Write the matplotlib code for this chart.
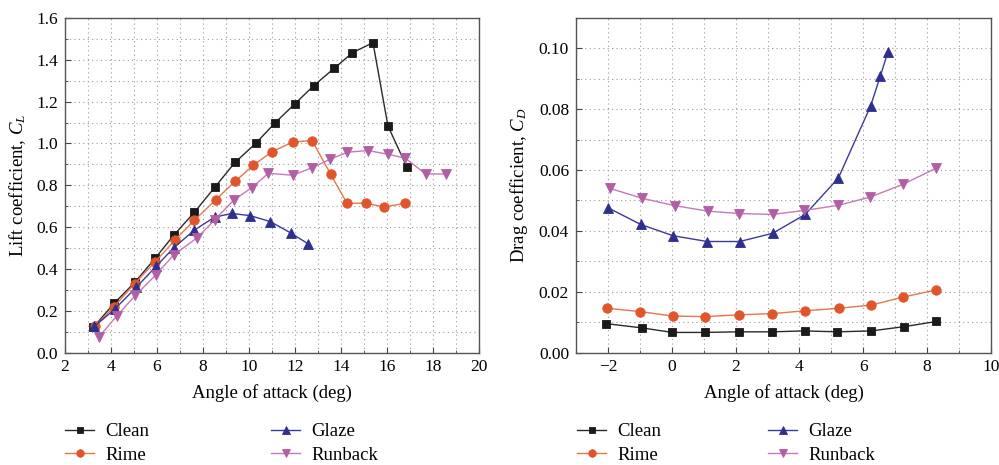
import matplotlib
matplotlib.use("Agg")
import matplotlib.pyplot as plt
from matplotlib.ticker import MultipleLocator, FormatStrFormatter, FuncFormatter

plt.rcParams['font.family'] = ['Liberation Serif', 'DejaVu Serif']
plt.rcParams['mathtext.fontset'] = 'custom'
plt.rcParams['mathtext.rm'] = 'Liberation Serif'
plt.rcParams['mathtext.it'] = 'Liberation Serif:italic'
plt.rcParams['axes.unicode_minus'] = True

series_names = ["Clean", "Rime", "Glaze", "Runback"]

# Lift coefficient data
cl_clean_x = [3.23, 4.14, 5.03, 5.93, 6.72, 7.62, 8.51, 9.39, 10.29, 11.12, 12.0, 12.81, 13.7, 14.5, 15.39, 16.04, 16.86]
cl_clean_y = [0.12, 0.236, 0.335, 0.452, 0.56, 0.67, 0.79, 0.909, 1.0, 1.097, 1.19, 1.276, 1.359, 1.434, 1.482, 1.084, 0.888]
cl_rime_x = [3.3, 4.14, 5.03, 5.93, 6.8, 7.62, 8.55, 9.39, 10.19, 11.01, 11.91, 12.74, 13.55, 14.26, 15.09, 15.88, 16.8]
cl_rime_y = [0.125, 0.22, 0.33, 0.435, 0.54, 0.632, 0.73, 0.818, 0.896, 0.961, 1.007, 1.014, 0.853, 0.714, 0.714, 0.696, 0.714]
cl_glaze_x = [3.28, 4.17, 5.1, 5.97, 6.72, 7.62, 8.51, 9.25, 10.04, 10.93, 11.81, 12.57]
cl_glaze_y = [0.125, 0.208, 0.312, 0.413, 0.5, 0.585, 0.648, 0.665, 0.655, 0.626, 0.572, 0.52]
cl_runback_x = [3.48, 4.25, 5.06, 5.94, 6.72, 7.75, 8.51, 9.35, 10.13, 10.84, 11.91, 12.72, 13.52, 14.28, 15.17, 16.06, 16.8, 17.68, 18.55]
cl_runback_y = [0.075, 0.175, 0.273, 0.37, 0.466, 0.549, 0.635, 0.73, 0.789, 0.857, 0.848, 0.883, 0.924, 0.958, 0.966, 0.948, 0.929, 0.854, 0.854]

# Drag coefficient data
cd_clean_x = [-2.07, -0.94, 0.02, 1.04, 2.11, 3.14, 4.16, 5.19, 6.25, 7.28, 8.29]
cd_clean_y = [0.0095, 0.0081, 0.0066, 0.0066, 0.0068, 0.0068, 0.0071, 0.0068, 0.0071, 0.0085, 0.0102]
cd_rime_x = [-2.02, -1.0, 0.03, 1.05, 2.11, 3.15, 4.17, 5.24, 6.25, 7.24, 8.29]
cd_rime_y = [0.01455, 0.01346, 0.0120, 0.0118, 0.0124, 0.0128, 0.0137, 0.01455, 0.0156, 0.0182, 0.0206]
cd_glaze_x = [-2.0, -0.97, 0.04, 1.11, 2.13, 3.16, 4.18, 5.22, 6.23, 6.53, 6.77]
cd_glaze_y = [0.0476, 0.0421, 0.0384, 0.0365, 0.0365, 0.0392, 0.0454, 0.0574, 0.0811, 0.0908, 0.0988]
cd_runback_x = [-1.95, -0.92, 0.09, 1.12, 2.11, 3.16, 4.14, 5.22, 6.21, 7.24, 8.28]
cd_runback_y = [0.0540, 0.0507, 0.0483, 0.0465, 0.0457, 0.0454, 0.0467, 0.0484, 0.0511, 0.0553, 0.0606]

styles = {
    "Clean": dict(color="#2a2a2a", mfc="#1a1a1a", mec="#1a1a1a", marker="s", ms=6.2),
    "Rime": dict(color="#e8754c", mfc="#e0552a", mec="#e0552a", marker="o", ms=6.8),
    "Glaze": dict(color="#3a3a99", mfc="#2e2f8f", mec="#2e2f8f", marker="^", ms=7.2),
    "Runback": dict(color="#c47ab8", mfc="#b15ea4", mec="#b15ea4", marker="v", ms=7.2),
}

fig = plt.figure(figsize=(9.99, 4.65), dpi=100)
W, H = 999, 465
ax1 = fig.add_axes([65 / W, 1 - 352.5 / H, (479 - 65) / W, (352.5 - 18) / H])
ax2 = fig.add_axes([576 / W, 1 - 352.5 / H, (991 - 576) / W, (352.5 - 18) / H])

cl_data = [(cl_clean_x, cl_clean_y), (cl_rime_x, cl_rime_y), (cl_glaze_x, cl_glaze_y), (cl_runback_x, cl_runback_y)]
cd_data = [(cd_clean_x, cd_clean_y), (cd_rime_x, cd_rime_y), (cd_glaze_x, cd_glaze_y), (cd_runback_x, cd_runback_y)]

for ax, data in [(ax1, cl_data), (ax2, cd_data)]:
    for name, (xs, ys) in zip(series_names, data):
        st = styles[name]
        ax.plot(xs, ys, color=st["color"], lw=1.0, marker=st["marker"], ms=st["ms"],
                mfc=st["mfc"], mec=st["mec"], mew=0.6, label=name)

def style_axes(ax):
    ax.grid(True, which="both", color="#999999", linestyle=(0, (1, 3)), linewidth=0.8)
    ax.set_axisbelow(True)
    ax.tick_params(which="both", direction="in", labelsize=12.5, color="#444444")
    ax.tick_params(which="major", length=4, width=0.8)
    ax.tick_params(which="minor", length=2.5, width=0.6)
    for sp in ax.spines.values():
        sp.set_color("#555555")
        sp.set_linewidth(1.0)
    ax.tick_params(axis="both", pad=5)

ax1.set_xlim(2, 20)
ax1.set_ylim(0, 1.6)
ax1.xaxis.set_major_locator(MultipleLocator(2))
ax1.xaxis.set_minor_locator(MultipleLocator(1))
ax1.yaxis.set_major_locator(MultipleLocator(0.2))
ax1.yaxis.set_minor_locator(MultipleLocator(0.1))
ax1.yaxis.set_major_formatter(FormatStrFormatter("%.1f"))
ax1.set_xlabel("Angle of attack (deg)", fontsize=13.5, labelpad=6)
ax1.set_ylabel("Lift coefficient, $C_L$", fontsize=13.5, labelpad=6)
style_axes(ax1)

ax2.set_xlim(-3, 10)
ax2.set_ylim(0, 0.11)
ax2.xaxis.set_major_locator(MultipleLocator(2))
ax2.xaxis.set_minor_locator(MultipleLocator(1))
ax2.yaxis.set_major_locator(MultipleLocator(0.02))
ax2.yaxis.set_minor_locator(MultipleLocator(0.01))
ax2.yaxis.set_major_formatter(FormatStrFormatter("%.2f"))
ax2.xaxis.set_major_formatter(FuncFormatter(lambda v, p: ("\u2212%d" % abs(v)) if v < 0 else "%d" % v))
ax2.set_xlabel("Angle of attack (deg)", fontsize=13.5, labelpad=6)
ax2.set_ylabel("Drag coefficient, $C_D$", fontsize=13.5, labelpad=6)
style_axes(ax2)

for ax, x0, cs in [(ax1, 65 / W, 6.5), (ax2, 577 / W, 5.7)]:
    h, l = ax.get_legend_handles_labels()
    fig.legend(h, l, ncol=2, frameon=False, loc="upper left",
               bbox_to_anchor=(x0, 1 - 423 / H), fontsize=13.5,
               handlelength=1.55, handletextpad=0.6, columnspacing=cs,
               labelspacing=0.36, borderpad=0, borderaxespad=0, markerscale=0.8)

fig.savefig("out.png", dpi=100)
